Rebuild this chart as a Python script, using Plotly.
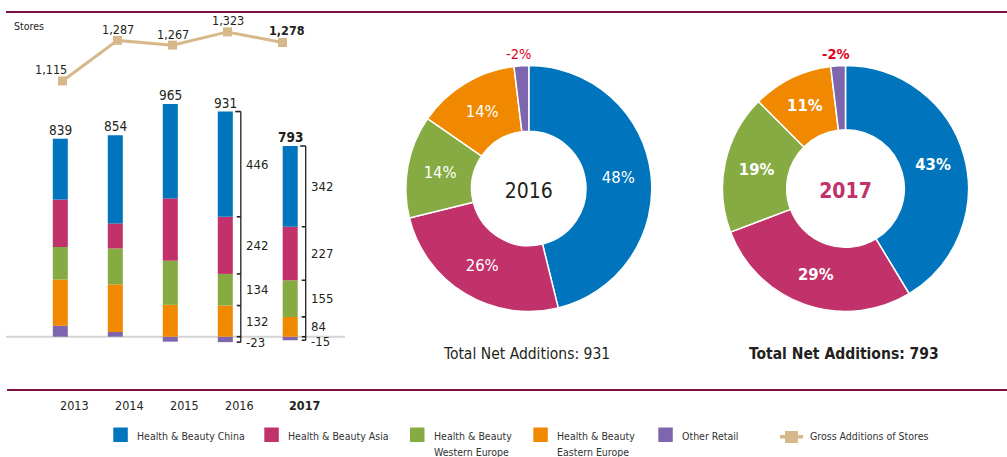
import plotly.graph_objects as go

# ---- data -------------------------------------------------------------
years = ["2013", "2014", "2015", "2016", "2017"]
china = [258, 374, 400, 446, 342]
asia = [201, 106, 264, 242, 227]
western_europe = [138, 152, 187, 134, 155]
eastern_europe = [196, 202, 135, 132, 84]
other_retail = [46, 20, -21, -23, -15]
net_additions = [839, 854, 965, 931, 793]
gross_additions = [1115, 1287, 1267, 1323, 1278]

pie_years = ["2016", "2017"]
pie_2016_pct = [48, 26, 14, 14, -2]
pie_2017_pct = [43, 29, 19, 11, -2]

segment_names = ["Health & Beauty China", "Health & Beauty Asia",
                 "Health & Beauty Western Europe", "Health & Beauty Eastern Europe",
                 "Other Retail"]

# ---- styling ------------------------------------------------------------
W, H = 1007, 457
FONT = "DejaVu Sans Condensed, DejaVu Sans, sans-serif"
INK = "#231f20"
BLUE, MAGENTA, GREEN, ORANGE, PURPLE = "#0074bc", "#c1326a", "#87ab43", "#f08900", "#7d66ad"
TAN = "#d7b88b"
MAROON = "#7b1142"
RED = "#e3001b"
SEG_COLORS = [BLUE, MAGENTA, GREEN, ORANGE, PURPLE]

# font sizes
FS_LINE = 12.5
FS_TOTAL = 13.5
FS_YEAR = 12.5
FS_BRACKET = 13
FS_STORES = 10.5
FS_PIE = 16.5
FS_CENTRE = 21
FS_NEG = 14.5
FS_FOOT = 15.5
FS_LEGEND = 10.5

CURRENT = "2017"
CURRENT_GAP = 0.18      # extra spacing that sets the latest year apart
BAR_WIDTH = 0.273
BRACKET_YEARS = ["2016", "2017"]


def px(x):
    return x / W


def py(y):
    return (H - y) / H


bar_x = [i + (CURRENT_GAP if y == CURRENT else 0) for i, y in enumerate(years)]
line_x = [i + 0.04 for i in range(len(years))]

fig = go.Figure()

# stacked bars, bottom to top
stack = [
    (other_retail, PURPLE),
    (eastern_europe, ORANGE),
    (western_europe, GREEN),
    (asia, MAGENTA),
    (china, BLUE),
]
for vals, col in stack:
    fig.add_trace(go.Bar(x=bar_x, y=vals, width=BAR_WIDTH, marker=dict(color=col, line=dict(width=0)),
                         xaxis="x", yaxis="y", hoverinfo="skip"))

# gross additions line
fig.add_trace(go.Scatter(x=line_x, y=gross_additions, mode="lines+markers",
                         line=dict(color=TAN, width=3),
                         marker=dict(symbol="square", size=9, color=TAN),
                         xaxis="x", yaxis="y2", hoverinfo="skip"))

annotations = []
shapes = []

# line labels
for i, (xv, v) in enumerate(zip(line_x, gross_additions)):
    bold = years[i] == CURRENT
    dx, dy = (-12, 11) if i == 0 else ((4, 11) if bold else (0, 10))
    annotations.append(dict(x=xv, y=v, xref="x", yref="y2", text=f"{v:,}",
                            showarrow=False, xanchor="center", yanchor="middle",
                            xshift=dx, yshift=dy + 1,
                            font=dict(family=FONT, size=FS_LINE, color=INK,
                                      weight="bold" if bold else "normal")))

# totals above bars, year labels below
for i, y in enumerate(years):
    pos_top = sum(v for v in (china[i], asia[i], western_europe[i], eastern_europe[i], other_retail[i]) if v > 0)
    bold = y == CURRENT
    annotations.append(dict(x=bar_x[i], y=pos_top, xref="x", yref="y", text=f"{net_additions[i]:,}",
                            showarrow=False, xanchor="center", yanchor="middle", yshift=9,
                            font=dict(family=FONT, size=FS_TOTAL, color=INK,
                                      weight="bold" if bold else "normal")))
    annotations.append(dict(x=bar_x[i], y=py(405), xref="x", yref="paper", text=y,
                            showarrow=False, xanchor="center", yanchor="middle", xshift=14,
                            font=dict(family=FONT, size=FS_YEAR, color=INK,
                                      weight="bold" if bold else "normal")))

# breakdown brackets for the last two years
for y in BRACKET_YEARS:
    i = years.index(y)
    xc = bar_x[i]
    segs = [eastern_europe[i], western_europe[i], asia[i], china[i]]
    bounds = [0]
    mids = []
    for s in segs:
        mids.append((bounds[-1] + bounds[-1] + s) / 2)
        bounds.append(bounds[-1] + s)
    neg = other_retail[i]
    shapes.append(dict(type="line", xref="x", yref="y", xsizemode="pixel", xanchor=xc,
                       x0=15.5, x1=15.5, y0=neg, y1=bounds[-1], line=dict(color=INK, width=1.3)))
    for b in bounds + [neg]:
        x0 = 10 if b == bounds[-1] else 11.5
        shapes.append(dict(type="line", xref="x", yref="y", xsizemode="pixel", xanchor=xc,
                           x0=x0, x1=15.5, y0=b, y1=b, line=dict(color=INK, width=1.6)))
    for s, m in zip(segs, mids):
        annotations.append(dict(x=xc, y=m, xref="x", yref="y", text=f"{s}", showarrow=False,
                                xanchor="left", yanchor="middle", xshift=18.5,
                                font=dict(family=FONT, size=FS_BRACKET, color=INK)))
    annotations.append(dict(x=xc, y=neg / 2, xref="x", yref="y", text=f"{neg}", showarrow=False,
                            xanchor="left", yanchor="middle", xshift=18.5, yshift=-3,
                            font=dict(family=FONT, size=FS_BRACKET, color=INK)))

# "Stores" caption
annotations.append(dict(x=px(12), y=py(26), xref="paper", yref="paper", text="Stores",
                        showarrow=False, xanchor="left", yanchor="middle",
                        font=dict(family=FONT, size=FS_STORES, color=INK)))

# ---- doughnuts ----------------------------------------------------------
pie_specs = [
    (pie_years[0], pie_2016_pct, 528.8, 0.465, "normal", INK, net_additions[3]),
    (pie_years[1], pie_2017_pct, 845.5, 0.478, "bold", MAGENTA, net_additions[4]),
]
R = 123
CY = 188.5
for label, pct, cx, hole, weight, centre_col, total in pie_specs:
    fig.add_trace(go.Pie(
        values=[abs(p) for p in pct],
        labels=segment_names,
        text=[f"{p}%" for p in pct],
        textinfo="text",
        textposition=["inside"] * (len(pct) - 1) + ["none"],
        insidetextorientation="horizontal",
        insidetextfont=dict(family=FONT, size=FS_PIE, color="white", weight=weight),
        sort=False, direction="clockwise", rotation=0, hole=hole,
        marker=dict(colors=SEG_COLORS, line=dict(color="white", width=1.5)),
        domain=dict(x=[px(cx - R), px(cx + R)], y=[py(CY + R), py(CY - R)]),
        title=dict(text=label, position="middle center",
                   font=dict(family=FONT, size=FS_CENTRE, color=centre_col, weight=weight)),
        hoverinfo="skip", showlegend=False,
    ))
    annotations.append(dict(x=px(cx - 10), y=py(54), xref="paper", yref="paper",
                            text=f"{pct[-1]}%", showarrow=False, xanchor="center", yanchor="middle",
                            font=dict(family=FONT, size=FS_NEG, color=RED, weight=weight)))
    annotations.append(dict(x=px(cx - 2), y=py(354), xref="paper", yref="paper",
                            text=f"Total Net Additions: {total}", showarrow=False,
                            xanchor="center", yanchor="middle",
                            font=dict(family=FONT, size=FS_FOOT, color=INK, weight=weight)))

# ---- rules ----------------------------------------------------------------
shapes.append(dict(type="line", xref="paper", yref="paper", x0=px(6), x1=1, y0=py(12), y1=py(12),
                   line=dict(color=MAROON, width=2)))
shapes.append(dict(type="line", xref="paper", yref="paper", x0=px(7), x1=1, y0=py(390), y1=py(390),
                   line=dict(color=MAROON, width=2)))
shapes.append(dict(type="line", xref="paper", yref="y", x0=px(6), x1=px(345), y0=0, y1=0,
                   line=dict(color="#d4d4d4", width=2), layer="below"))

# ---- legend ---------------------------------------------------------------
legend_items = [
    (113.3, BLUE, ["Health & Beauty China"]),
    (264.3, MAGENTA, ["Health & Beauty Asia"]),
    (410.0, GREEN, ["Health & Beauty", "Western Europe"]),
    (533.3, ORANGE, ["Health & Beauty", "Eastern Europe"]),
    (658.3, PURPLE, ["Other Retail"]),
]
for x0, col, lines in legend_items:
    shapes.append(dict(type="rect", xref="paper", yref="paper", x0=px(x0), x1=px(x0 + 14.5),
                       y0=py(442), y1=py(427.5), fillcolor=col, line=dict(width=0)))
    for k, t in enumerate(lines):
        annotations.append(dict(x=px(x0 + 21.5), y=py(436 + 16 * k), xref="paper", yref="paper",
                                text=t, showarrow=False, xanchor="left", yanchor="middle",
                                font=dict(family=FONT, size=FS_LEGEND, color="#333333")))
shapes.append(dict(type="line", xref="paper", yref="paper", x0=px(780), x1=px(803),
                   y0=py(436.8), y1=py(436.8), line=dict(color=TAN, width=3.5)))
shapes.append(dict(type="rect", xref="paper", yref="paper", x0=px(785), x1=px(798),
                   y0=py(443), y1=py(431), fillcolor=TAN, line=dict(width=0)))
annotations.append(dict(x=px(808), y=py(436), xref="paper", yref="paper",
                        text="Gross Additions of Stores", showarrow=False,
                        xanchor="left", yanchor="middle",
                        font=dict(family=FONT, size=FS_LEGEND, color="#333333")))

# ---- axes / layout ------------------------------------------------------
BASE_PX = 336.7
SCALE = 0.236  # pixels per store
y_range = [-(H - BASE_PX) / SCALE, BASE_PX / SCALE]
y2_top = gross_additions[0] + 81 / SCALE
y2_range = [y2_top - H / SCALE, y2_top]

hidden = dict(showgrid=False, zeroline=False, showticklabels=False, ticks="", showline=False)
fig.update_layout(
    width=W, height=H, autosize=False,
    margin=dict(l=0, r=0, t=0, b=0),
    paper_bgcolor="white", plot_bgcolor="rgba(0,0,0,0)",
    barmode="relative", showlegend=False,
    xaxis=dict(domain=[0, 0.35], range=[-60.3 / 55, -60.3 / 55 + 0.35 * W / 55], fixedrange=True, **hidden),
    yaxis=dict(domain=[0, 1], range=y_range, fixedrange=True, **hidden),
    yaxis2=dict(domain=[0, 1], range=y2_range, overlaying="y", fixedrange=True, **hidden),
    shapes=shapes,
    annotations=annotations,
    font=dict(family=FONT, color=INK),
)

fig.write_html("out.html", config={"displayModeBar": False})
